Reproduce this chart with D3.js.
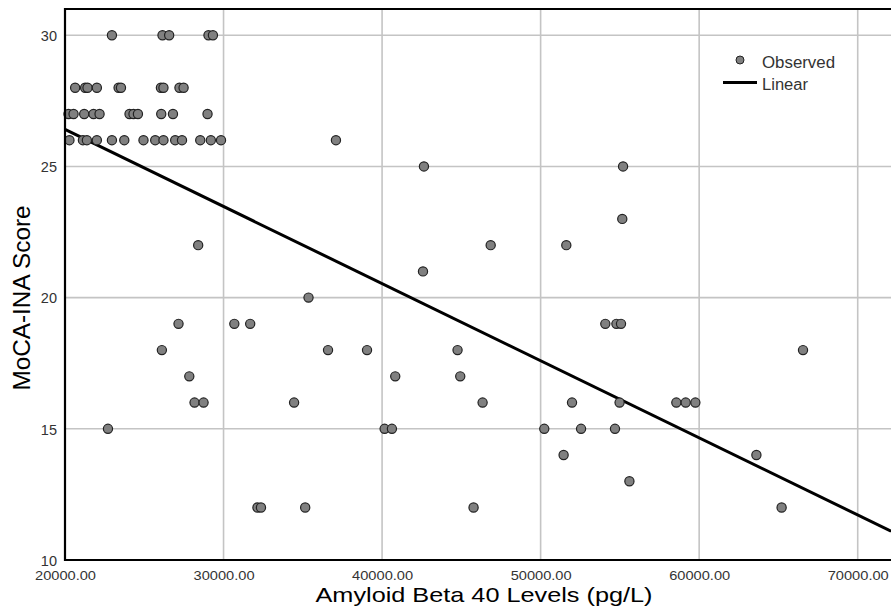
<!DOCTYPE html>
<html>
<head>
<meta charset="utf-8">
<script src="https://cdn.jsdelivr.net/npm/d3@7"></script>
<style>
	body { margin: 0; background: #fff; }
	#main-view { width: 891px; height: 614px; }
	text { font-family: "Liberation Sans", Arial, sans-serif; }
</style>
</head>
<body>
<div id="main-view"></div>
<script>
// observed points, grouped by MoCA-INA score (x = Amyloid Beta 40, pg/L)
var scores = [30, 28, 27, 26, 25, 23, 22, 21, 20, 19, 18, 17, 16, 15, 14, 13, 12];
var amyloid = [
	[22960, 26150, 26570, 29050, 29330],
	[20640, 21270, 21420, 22010, 23380, 23530, 26050, 26210, 27220, 27480],
	[20220, 20540, 21210, 21800, 22180, 24070, 24320, 24600, 26070, 26810, 28990],
	[20280, 21130, 21380, 22010, 22960, 23740, 24950, 25690, 26210, 26950, 27380, 28530, 29200, 29840, 37090],
	[42640, 55200],
	[55150],
	[28400, 46850, 51620],
	[42580],
	[35360],
	[27160, 30680, 31680, 54080, 54780, 55070],
	[26110, 36590, 39050, 44760, 66550],
	[27840, 40830, 44930],
	[28170, 28740, 34450, 46340, 51980, 54980, 58560, 59150, 59760],
	[22710, 40160, 40620, 50230, 52550, 54690],
	[51450, 63610],
	[55600],
	[32140, 32360, 35150, 45770, 65200]
];
// linear fit: score = intercept + slope * amyloid
var fitCoef = [32.29, -0.0002939];
var xTicks = [20000, 30000, 40000, 50000, 60000, 70000];
var yTicks = [10, 15, 20, 25, 30];
var legendLabels = ["Observed", "Linear"];

function ScatterView() {
	var width = 891, height = 614;
	var left = 65, right = 891, top = 9, bottom = 560;

	var svg = d3.select("#main-view").append("svg")
		.attr("width", width)
		.attr("height", height);

	var x = d3.scaleLinear().domain([20000, 72100]).range([left, right]);
	var y = d3.scaleLinear().domain([10, 31]).range([bottom, top]);

	var points = [];
	scores.forEach(function(s, i) {
		amyloid[i].forEach(function(a) {
			points.push({ x: a, y: s });
		})
	})

	// grid
	svg.append("g").selectAll("line")
		.data(xTicks.slice(1))
		.enter().append("line")
		.attr("x1", function(d) { return x(d) })
		.attr("x2", function(d) { return x(d) })
		.attr("y1", top)
		.attr("y2", bottom)
		.style("stroke", "#c4c4c4")
		.style("stroke-width", 1.6);

	svg.append("g").selectAll("line")
		.data(yTicks.slice(1))
		.enter().append("line")
		.attr("x1", left)
		.attr("x2", right)
		.attr("y1", function(d) { return y(d) })
		.attr("y2", function(d) { return y(d) })
		.style("stroke", "#c4c4c4")
		.style("stroke-width", 1.6);

	// axes labels
	var xAxis = svg.append("g")
		.attr("transform", "translate(0," + bottom + ")")
		.call(d3.axisBottom(x).tickValues(xTicks).tickSize(0).tickPadding(12)
			.tickFormat(function(d) { return d3.format(".2f")(d) }));
	xAxis.select(".domain").remove();
	xAxis.selectAll("text")
		.attr("dy", 0)
		.attr("y", 20)
		.attr("textLength", 61)
		.attr("lengthAdjust", "spacingAndGlyphs")
		.style("font-size", "13px")
		.style("fill", "#333");

	var yAxis = svg.append("g")
		.attr("transform", "translate(" + left + ",0)")
		.call(d3.axisLeft(y).tickValues(yTicks).tickSize(0).tickPadding(8));
	yAxis.select(".domain").remove();
	yAxis.selectAll("text")
		.attr("dy", "0.36em")
		.style("font-size", "14.5px")
		.style("fill", "#333");

	// fit line
	var xd = x.domain();
	svg.append("line")
		.attr("x1", x(xd[0]))
		.attr("y1", y(fitCoef[0] + fitCoef[1] * xd[0]))
		.attr("x2", x(xd[1]))
		.attr("y2", y(fitCoef[0] + fitCoef[1] * xd[1]))
		.style("stroke", "#000")
		.style("stroke-width", 3);

	svg.append("g").selectAll("circle")
		.data(points)
		.enter().append("circle")
		.attr("cx", function(d) { return x(d.x) })
		.attr("cy", function(d) { return y(d.y) })
		.attr("r", 4.6)
		.style("fill", "#808080")
		.style("stroke", "#222")
		.style("stroke-width", 1.2);

	// frame
	svg.append("path")
		.attr("d", "M" + right + "," + top + "H" + left + "V" + bottom + "H" + right)
		.style("fill", "none")
		.style("stroke", "#000")
		.style("stroke-width", 2.2);

	// legend
	var lg = svg.append("g");
	lg.append("circle")
		.attr("cx", 740).attr("cy", 60).attr("r", 4)
		.style("fill", "#808080")
		.style("stroke", "#222")
		.style("stroke-width", 1);
	lg.append("line")
		.attr("x1", 723).attr("x2", 757).attr("y1", 82.5).attr("y2", 82.5)
		.style("stroke", "#000")
		.style("stroke-width", 3);
	lg.selectAll("text")
		.data(legendLabels)
		.enter().append("text")
		.attr("x", 762)
		.attr("y", function(d, i) { return 68 + i * 22 })
		.attr("textLength", function(d, i) { return i == 0 ? 73 : 46 })
		.attr("lengthAdjust", "spacingAndGlyphs")
		.style("font-size", "16px")
		.style("fill", "#333")
		.text(function(d) { return d });

	// titles
	svg.append("text")
		.attr("x", 484)
		.attr("y", 602)
		.attr("text-anchor", "middle")
		.attr("textLength", 337)
		.attr("lengthAdjust", "spacingAndGlyphs")
		.style("font-size", "21px")
		.style("fill", "#000")
		.text("Amyloid Beta 40 Levels (pg/L)");

	svg.append("text")
		.attr("transform", "translate(30,298) rotate(-90)")
		.attr("text-anchor", "middle")
		.attr("textLength", 185)
		.attr("lengthAdjust", "spacingAndGlyphs")
		.style("font-size", "23px")
		.style("fill", "#000")
		.text("MoCA-INA Score");
}

new ScatterView();
</script>
</body>
</html>
